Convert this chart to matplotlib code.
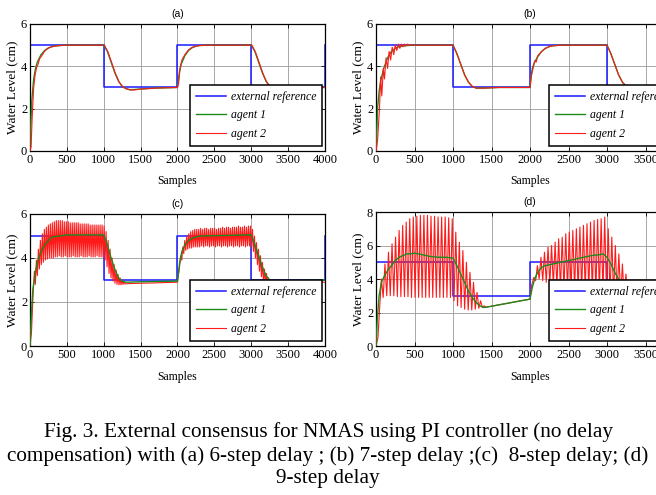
import numpy as np
import matplotlib
matplotlib.use('Agg')
import matplotlib.pyplot as plt

plt.rcParams['font.family'] = ['Liberation Serif', 'DejaVu Serif']

# external reference (step signal)
ref_x = [0, 1000, 2000, 3000, 4000]
ref_y = [5, 3, 5, 3, 5]

# (a) 6-step delay
a_g_x = [0, 10, 25, 50, 75, 100, 150, 200, 250, 300, 350, 400, 500, 1000, 1050, 1100, 1150, 1200, 1250, 1300,
         1350, 1400, 1500, 1700, 2000, 2025, 2050, 2100, 2150, 2200, 2250, 2300, 2400, 3000, 3050, 3100, 3150, 3200,
         3250, 3300, 3400, 4000]
a_g_y = [0, 1.2, 2.4, 3.4, 3.9, 4.2, 4.55, 4.75, 4.87, 4.93, 4.96, 4.98, 5.0, 5.0, 4.7, 4.2, 3.7, 3.3, 3.05, 2.95,
         2.9, 2.9, 2.93, 2.97, 3.0, 3.7, 4.1, 4.5, 4.75, 4.88, 4.95, 4.98, 5.0, 5.0, 4.7, 4.2, 3.7, 3.3,
         3.05, 3.0, 3.0, 3.0]
a_r_x = [0, 15, 30, 50, 70, 90, 110, 130, 160, 200, 250, 300, 350, 400, 500, 1000, 1010, 1060, 1110, 1160,
         1210, 1260, 1310, 1360, 1410, 1500, 1700, 2000, 2015, 2035, 2060, 2100, 2150, 2200, 2250, 2300, 2400, 3000,
         3010, 3060, 3110, 3160, 3210, 3260, 3310, 3400, 4000]
a_r_y = [0, 0.2, 1.6, 3.0, 3.6, 3.95, 4.1, 4.35, 4.5, 4.72, 4.86, 4.93, 4.96, 4.98, 5.0, 5.0, 5.0, 4.65, 4.15, 3.65,
         3.25, 3.02, 2.93, 2.88, 2.88, 2.92, 2.97, 3.0, 3.2, 3.9, 4.3, 4.55, 4.78, 4.9, 4.95, 4.98, 5.0, 5.0,
         5.0, 4.65, 4.15, 3.65, 3.25, 3.03, 2.98, 3.0, 3.0]

# (b) 7-step delay
b_g_x = [0, 10, 20, 40, 60, 100, 150, 200, 250, 300, 400, 500, 1000, 1050, 1100, 1150, 1200, 1250, 1300, 1400,
         1600, 2000, 2010, 2030, 2060, 2100, 2150, 2200, 2250, 2300, 2400, 3000, 3050, 3100, 3150, 3200, 3250, 3300, 4000]
b_g_y = [0, 1.0, 2.0, 2.8, 3.3, 3.9, 4.4, 4.7, 4.85, 4.93, 4.98, 5.0, 5.0, 4.6, 4.1, 3.6, 3.25, 3.05, 2.97, 2.97,
         3.0, 3.0, 3.4, 3.9, 4.2, 4.45, 4.7, 4.85, 4.93, 4.97, 5.0, 5.0, 4.6, 4.1, 3.6, 3.25, 3.05, 3.0, 3.0]
b_r_x = [0, 20, 45, 60, 75, 95, 110, 130, 150, 170, 190, 210, 230, 250, 270, 290, 310, 330, 350, 370,
         390, 410, 430, 450, 500, 1000, 1050, 1100, 1150, 1200, 1250, 1300, 1400, 1600, 2000, 2020, 2040, 2060, 2080,
         2100, 2150, 2200, 2250, 2300, 2400, 3000, 3050, 3100, 3150, 3200, 3250, 3300, 4000]
b_r_y = [0, 0.5, 2.0, 3.5, 2.6, 3.9, 3.4, 4.4, 3.9, 4.7, 4.3, 4.9, 4.55, 5.0, 4.75, 5.05, 4.85, 5.05, 4.92, 5.05,
         4.96, 5.05, 4.98, 5.02, 5.0, 5.0, 4.6, 4.1, 3.6, 3.25, 3.05, 2.97, 2.97, 3.0, 3.0, 3.6, 3.9, 4.25, 4.2,
         4.5, 4.7, 4.85, 4.93, 4.97, 5.0, 5.0, 4.6, 4.1, 3.6, 3.25, 3.05, 3.0, 3.0]

# (c) 8-step delay
c_g_x = [0, 20, 40, 70, 100, 150, 200, 250, 300, 400, 500, 1000, 1050, 1100, 1150, 1200, 1250, 1300, 1500, 2000,
         2030, 2060, 2100, 2150, 2200, 2300, 3000, 3050, 3100, 3150, 3200, 3250, 3300, 4000]
c_g_y = [0, 1.5, 2.6, 3.3, 3.8, 4.3, 4.6, 4.8, 4.95, 5.0, 5.05, 5.05, 4.6, 4.0, 3.5, 3.1, 2.95, 2.9, 2.92, 2.95,
         3.8, 4.3, 4.6, 4.8, 4.9, 5.0, 5.05, 4.6, 4.1, 3.6, 3.2, 3.0, 2.95, 3.0]
# agent 2: non-oscillating stretches + peaks/troughs of the oscillation
c_r_x = [0, 20, 40, 1350, 1600, 2000, 2020, 3400, 4000]
c_r_y = [0, 0.6, 2.2, 2.84, 2.86, 2.9, 3.4, 2.88, 2.9]
c_peak_x = [60, 87, 114, 141, 168, 195, 222, 249, 276, 303, 330, 357, 384, 411, 438, 465, 492, 519, 546, 573,
            600, 627, 654, 681, 708, 735, 762, 789, 816, 843, 870, 897, 924, 951, 978, 1005, 1032, 1059, 1086, 1113,
            1140, 1167, 1194, 1221, 1248, 1275,
            2045, 2072, 2099, 2126, 2153, 2180, 2207, 2234, 2261, 2288, 2315, 2342, 2369, 2396, 2423, 2450, 2477,
            2504, 2531, 2558, 2585, 2612, 2639, 2666, 2693, 2720, 2747, 2774, 2801, 2828, 2855, 2882, 2909, 2936,
            2963, 2990, 3017, 3044, 3071, 3098, 3125, 3152, 3179, 3206, 3233, 3260, 3287]
c_peak_y = [3.4, 3.9, 4.4, 4.8, 5.1, 5.3, 5.4, 5.5, 5.55, 5.6, 5.65, 5.7, 5.7, 5.7, 5.7, 5.65, 5.65, 5.65, 5.6, 5.6,
            5.6, 5.6, 5.6, 5.55, 5.55, 5.55, 5.55, 5.55, 5.5, 5.5, 5.5, 5.5, 5.5, 5.5, 5.5, 5.45, 5.2, 4.8, 4.4, 4.0,
            3.7, 3.45, 3.25, 3.1, 3.0, 2.92,
            4.1, 4.5, 4.8, 5.0, 5.1, 5.2, 5.25, 5.3, 5.3, 5.3, 5.35, 5.3, 5.35, 5.35, 5.3, 5.35, 5.35,
            5.35, 5.3, 5.35, 5.35, 5.4, 5.35, 5.4, 5.4, 5.35, 5.4, 5.4, 5.4, 5.45, 5.4, 5.4, 5.45, 5.4,
            5.45, 5.45, 5.3, 5.0, 4.7, 4.4, 4.1, 3.8, 3.5, 3.3, 3.1, 3.0, 2.92]
c_trough_x = [73, 100, 127, 154, 181, 208, 235, 262, 289, 316, 343, 370, 397, 424, 451, 478, 505, 532, 559, 586,
              613, 640, 667, 694, 721, 748, 775, 802, 829, 856, 883, 910, 937, 964, 991, 1018, 1045, 1072, 1099, 1126,
              1153, 1180, 1207, 1234, 1261, 1288,
              2058, 2085, 2112, 2139, 2166, 2193, 2220, 2247, 2274, 2301, 2328, 2355, 2382, 2409, 2436, 2463, 2490,
              2517, 2544, 2571, 2598, 2625, 2652, 2679, 2706, 2733, 2760, 2787, 2814, 2841, 2868, 2895, 2922, 2949,
              2976, 3003, 3030, 3057, 3084, 3111, 3138, 3165, 3192, 3219, 3246, 3273, 3300]
c_trough_y = [2.8, 3.2, 3.5, 3.7, 3.8, 3.9, 3.95, 4.0, 4.0, 4.0, 4.05, 4.05, 4.1, 4.05, 4.05, 4.1, 4.05, 4.05, 4.05, 4.1,
              4.05, 4.05, 4.05, 4.1, 4.05, 4.05, 4.05, 4.1, 4.05, 4.05, 4.05, 4.1, 4.05, 4.05, 4.05, 3.9, 3.6, 3.3, 3.1,
              2.95, 2.85, 2.8, 2.78, 2.78, 2.8, 2.82,
              3.9, 4.2, 4.35, 4.4, 4.45, 4.45, 4.5, 4.5, 4.5, 4.5, 4.55, 4.5, 4.55, 4.55, 4.5, 4.55, 4.55,
              4.5, 4.55, 4.55, 4.5, 4.55, 4.55, 4.5, 4.55, 4.55, 4.5, 4.55, 4.55, 4.5, 4.55, 4.55, 4.5, 4.55,
              4.55, 4.5, 4.3, 4.0, 3.7, 3.4, 3.15, 2.95, 2.85, 2.8, 2.8, 2.82, 2.85]

# (d) 9-step delay
d_g_x = [0, 15, 40, 70, 100, 150, 200, 250, 300, 350, 400, 450, 500, 600, 700, 800, 900, 1000, 1050, 1100,
         1150, 1200, 1250, 1300, 1350, 1400, 1450, 2000, 2030, 2060, 2100, 2150, 2200, 2300, 2400, 2500, 2600, 2700,
         2800, 2900, 2950, 3000, 3050, 3100, 3150, 3200, 3250, 3300, 3400, 4000]
d_g_y = [0, 1.5, 3.0, 3.8, 4.1, 4.5, 4.8, 5.1, 5.3, 5.4, 5.5, 5.5, 5.55, 5.45, 5.35, 5.3, 5.3, 5.25, 4.8, 4.3,
         3.8, 3.3, 2.9, 2.6, 2.4, 2.3, 2.33, 2.8, 3.5, 4.0, 4.4, 4.7, 4.8, 4.9, 5.0, 5.1, 5.2, 5.3,
         5.4, 5.45, 5.5, 5.3, 4.9, 4.4, 4.0, 3.6, 3.3, 3.1, 3.0, 3.0]
d_r_x = [0, 25, 50, 1500, 2000, 2020, 3400, 4000]
d_r_y = [0, 0.5, 2.5, 2.38, 2.8, 3.6, 3.0, 3.0]
d_peak_x = [70, 116, 162, 208, 254, 300, 346, 392, 438, 484, 530, 576, 622, 668, 714, 760, 806, 852, 898, 944,
            990, 1036, 1082, 1128, 1174, 1220, 1266, 1312, 1358, 1404,
            2050, 2096, 2142, 2188, 2234, 2280, 2326, 2372, 2418, 2464, 2510, 2556, 2602, 2648, 2694, 2740, 2786,
            2832, 2878, 2924, 2970, 3016, 3062, 3108, 3154, 3200, 3246, 3292]
d_peak_y = [4.0, 4.9, 5.6, 6.1, 6.5, 6.9, 7.2, 7.4, 7.6, 7.7, 7.75, 7.8, 7.8, 7.8, 7.75, 7.75, 7.7, 7.7, 7.7, 7.65,
            7.6, 6.8, 6.2, 5.7, 5.0, 4.4, 3.8, 3.2, 2.7, 2.4,
            4.1, 4.8, 5.3, 5.6, 5.9, 6.0, 6.2, 6.4, 6.5, 6.7, 6.8, 6.9, 7.0, 7.1, 7.2, 7.3, 7.4,
            7.5, 7.55, 7.6, 7.7, 7.0, 6.5, 6.0, 5.5, 4.9, 4.3, 3.8]
d_trough_x = [93, 139, 185, 231, 277, 323, 369, 415, 461, 507, 553, 599, 645, 691, 737, 783, 829, 875, 921, 967,
              1013, 1059, 1105, 1151, 1197, 1243, 1289, 1335, 1381, 1427,
              2073, 2119, 2165, 2211, 2257, 2303, 2349, 2395, 2441, 2487, 2533, 2579, 2625, 2671, 2717, 2763, 2809,
              2855, 2901, 2947, 2993, 3039, 3085, 3131, 3177, 3223, 3269, 3315]
d_trough_y = [2.9, 3.0, 3.0, 3.0, 2.95, 2.95, 2.95, 2.95, 2.9, 2.9, 2.9, 2.9, 2.9, 2.9, 2.9, 2.9, 2.9, 2.9, 2.9, 2.9,
              2.7, 2.4, 2.3, 2.2, 2.15, 2.15, 2.2, 2.25, 2.3, 2.32,
              3.9, 4.0, 3.9, 3.8, 3.7, 3.6, 3.5, 3.4, 3.35, 3.3, 3.3, 3.25, 3.2, 3.2, 3.2, 3.15, 3.15,
              3.1, 3.1, 3.1, 3.1, 3.0, 2.9, 2.9, 2.9, 2.9, 2.95, 3.0]

caption_lines = ["Fig. 3. External consensus for NMAS using PI controller (no delay",
                 "compensation) with (a) 6-step delay ; (b) 7-step delay ;(c)  8-step delay; (d)",
                 "9-step delay"]

BLUE = '#1a1aff'
GREEN = '#1a8a1a'
RED = '#ff1a1a'


def zigzag(base_x, base_y, peak_x, peak_y, trough_x, trough_y):
    # merge the smooth stretches with the peak / trough vertices, ordered along x
    x = np.concatenate([base_x, peak_x, trough_x]).astype(float)
    y = np.concatenate([base_y, peak_y, trough_y]).astype(float)
    order = np.argsort(x, kind='stable')
    return x[order], y[order]


def draw_panel(fig, pos, title, ymax, agent1, agent2, green_on_top):
    ax = fig.add_axes(pos)
    ax.plot(ref_x, ref_y, drawstyle='steps-post', color=BLUE, lw=1.1, zorder=2, label='external reference')
    z1, z2 = (4, 3) if green_on_top else (3, 4)
    ax.plot(agent1[0], agent1[1], color=GREEN, lw=1.0, zorder=z1, label='agent 1')
    ax.plot(agent2[0], agent2[1], color=RED, lw=0.8, zorder=z2, label='agent 2')

    ax.set_xlim(0, 4000)
    ax.set_ylim(0, ymax)
    ax.set_xticks(range(0, 4001, 500))
    ax.set_yticks(range(0, ymax + 1, 2))
    ax.grid(True, color='#9a9a9a', lw=0.6)
    ax.set_axisbelow(True)
    ax.tick_params(direction='in', top=True, right=True, length=3, width=0.6, labelsize=9, pad=2)
    for s in ax.spines.values():
        s.set_linewidth(0.9)

    ax.set_title(title, fontsize=7.5, family='Liberation Sans', pad=5)
    ax.set_xlabel('Samples', fontsize=8.5, labelpad=7)
    ax.set_ylabel('Water Level (cm)', fontsize=9.5, labelpad=2)

    leg = ax.legend(loc='lower right', bbox_to_anchor=(0.99, 0.04), borderaxespad=0,
                    prop={'family': 'Liberation Serif', 'style': 'italic', 'size': 8.5},
                    fancybox=False, framealpha=1, edgecolor='black', handlelength=2.5,
                    handletextpad=0.4, labelspacing=0.55, borderpad=0.5)
    leg.get_frame().set_linewidth(1.1)
    leg.set_zorder(10)
    return ax
# ENDFUNCTION


fig = plt.figure(figsize=(6.56, 4.95), dpi=100)

draw_panel(fig, [0.0457, 0.695, 0.4497, 0.2566], '(a)', 6, (a_g_x, a_g_y), (a_r_x, a_r_y), False)
draw_panel(fig, [0.5732, 0.695, 0.4695, 0.2566], '(b)', 6, (b_g_x, b_g_y), (b_r_x, b_r_y), False)
draw_panel(fig, [0.0457, 0.301, 0.4497, 0.2667], '(c)', 6, (c_g_x, c_g_y),
           zigzag(c_r_x, c_r_y, c_peak_x, c_peak_y, c_trough_x, c_trough_y), True)
draw_panel(fig, [0.5732, 0.301, 0.4695, 0.2707], '(d)', 8, (d_g_x, d_g_y),
           zigzag(d_r_x, d_r_y, d_peak_x, d_peak_y, d_trough_x, d_trough_y), True)

for line, ypos in zip(caption_lines, [0.127, 0.079, 0.033]):
    fig.text(0.5, ypos, line, ha='center', va='center', fontsize=15.3)

fig.savefig('out.png', dpi=100)
